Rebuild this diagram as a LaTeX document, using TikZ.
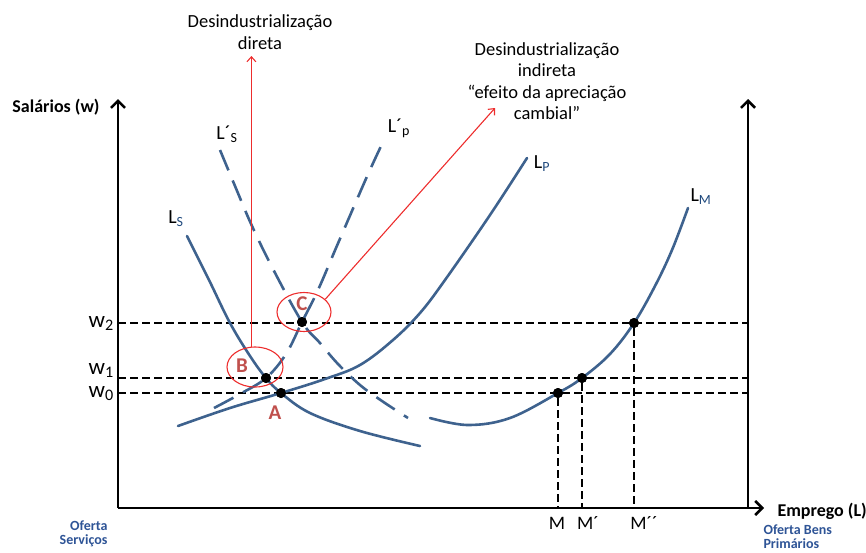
\documentclass[tikz,border=0pt]{standalone}
\usepackage{fontspec}
\setmainfont{Carlito}
\usetikzlibrary{arrows.meta,shapes.geometric}
\definecolor{curvec}{RGB}{62,98,142}
\definecolor{redl}{RGB}{237,45,45}
\definecolor{ptlabc}{RGB}{192,80,77}
\definecolor{ofblue}{RGB}{46,84,150}
\definecolor{subblue}{RGB}{31,73,125}
\tikzset{
  axisline/.style={black, line width=2.6pt, -{Straight Barb[length=7pt,width=14pt]}},
  curvesolid/.style={curvec, line width=2.6pt, line cap=round},
  curvedash/.style={curvec, line width=2.6pt, dash pattern=on 22pt off 11pt},
  guide/.style={black, line width=1.1pt, dash pattern=on 8pt off 4pt},
  dot/.style={circle, fill=black, inner sep=0pt, minimum size=10pt},
  redarrow/.style={redl, line width=1.1pt, -{Straight Barb[length=5pt,width=9pt]}},
  redell/.style={draw=redl, line width=1.1pt, ellipse, inner sep=0pt},
  ptlab/.style={text=ptlabc, font=\fontsize{21}{23}\selectfont\bfseries},
  curvelab/.style={font=\fontsize{20}{22}\selectfont},
  wlab/.style={font=\fontsize{23}{25}\selectfont, anchor=base east, inner sep=0pt},
  mlab/.style={font=\fontsize{19}{21}\selectfont},
  note/.style={font=\fontsize{18.5}{21.5}\selectfont, align=center},
  axlab/.style={font=\fontsize{18}{20}\selectfont\bfseries},
  oferta/.style={text=ofblue, font=\fontsize{14}{14.5}\selectfont\bfseries}
}
\newcommand{\sbl}[1]{\textsubscript{\color{subblue}#1}}
\begin{document}
\begin{tikzpicture}[x=1pt,y=-1pt]
\useasboundingbox (0,0) rectangle (866,552);

% axes
\coordinate (O) at (118,508);
\coordinate (Ytop) at (118,99);
\coordinate (Xend) at (764,508);
\coordinate (R0) at (748,508);
\coordinate (Rtop) at (748,99);

% guide lines
\coordinate (w2l) at (118,323); \coordinate (w2r) at (748,323);
\coordinate (w1l) at (118,378); \coordinate (w1r) at (748,378);
\coordinate (w0l) at (118,393); \coordinate (w0r) at (748,393);
\draw[guide] (w2l) -- (w2r);
\draw[guide] (w1l) -- (w1r);
\draw[guide] (w0l) -- (w0r);

\node[dot] (A) at (281,393) {};
\node[dot] (B) at (266,378) {};
\node[dot] (C) at (302,322) {};
\node[dot] (M0) at (558,393) {};
\node[dot] (M1) at (582,378) {};
\node[dot] (M2) at (634,323) {};

\coordinate (m0b) at (558,508);
\coordinate (m1b) at (582,508);
\coordinate (m2b) at (634,508);
\draw[guide] (M0) -- (m0b);
\draw[guide] (M1) -- (m1b);
\draw[guide] (M2) -- (m2b);

\draw[axisline] (O) -- (Ytop);
\draw[axisline] (O) -- (Xend);
\draw[axisline] (R0) -- (Rtop);

% curves
\draw[curvesolid] plot[smooth, tension=0.6] coordinates {(187,236) (209,280) (230,323) (250,356) (266,378) (281,393) (310,413) (360,431) (420,446)};
\draw[curvedash] plot[smooth, tension=0.6] coordinates {(220,150) (235,186) (252,226) (273,269) (302,322) (320,343) (338,364) (360,385) (382,401) (408,418)};
\draw[curvedash] plot[smooth, tension=0.6] coordinates {(214,408) (240,394) (266,378) (286,354) (302,322) (318,290) (336,248) (355,204) (369,172) (382,144)};
\draw[curvesolid] plot[smooth, tension=0.6] coordinates {(178,426) (230,408) (281,393) (325,379) (360,365) (393,340) (420,313) (445,280) (490,215) (527,158)};
\draw[curvesolid] plot[smooth, tension=0.6] coordinates {(430,418) (468,425) (510,418) (558,393) (582,378) (610,354) (634,323) (655,286) (672,250) (688,208)};

% dots on top
\foreach \p in {A,B,C,M0,M1,M2} \fill[black] (\p) circle (5pt);

% red annotations
\node[redell, minimum width=56pt, minimum height=40pt] (ellB) at (255,367) {};
\node[redell, minimum width=54pt, minimum height=39pt] (ellC) at (304,312) {};
\coordinate (dirT) at (251,56);
\coordinate (indT) at (495,108);
\draw[redarrow] (ellB.100) -- (ellB.100 |- dirT);
\draw[redarrow] (ellC.31) -- (indT);

% point labels
\node[ptlab] (labA) at (275,413) {A};
\node[ptlab] (labB) at (242,366) {B};
\node[ptlab] (labC) at (302,304) {C};

% curve labels
\node[curvelab] (lLS) at (176,219) {L\sbl{S}};
\node[curvelab] (lLSp) at (227,134) {L´\textsubscript{S}};
\node[curvelab] (lLPp) at (399,128) {L´\textsubscript{p}};
\node[curvelab] (lLP) at (542,164) {L\sbl{P}};
\node[curvelab] (lLM) at (701,197) {L\sbl{M}};

% w labels
\node[wlab] (w2) at (114,327) {w\textsubscript{2}};
\node[wlab] (w1) at (114,374) {w\textsubscript{1}};
\node[wlab] (w0) at (114,397) {w\textsubscript{0}};

% M labels
\node[mlab] (mM0) at (557,523) {M};
\node[mlab] (mM1) at (588,523) {M´};
\node[mlab] (mM2) at (644,523) {M´´};

% notes
\node[note] (ndir) at (260,32) {Desindustrialização\\direta};
\node[note] (nind) at (547,81) {Desindustrialização\\indireta\\“efeito da apreciação\\cambial”};

% axis labels
\node[axlab, anchor=base] (ylab) at (56,112) {Salários (w)};
\node[axlab, anchor=base west] (xlab) at (774,516) {Emprego (L)};
\node[oferta, align=right, anchor=east] (ofs) at (111,534) {Oferta\\Serviços};
\node[oferta, align=left, anchor=north west] (ofb) at (760,521) {Oferta Bens\\Primários};
\end{tikzpicture}
\end{document}
